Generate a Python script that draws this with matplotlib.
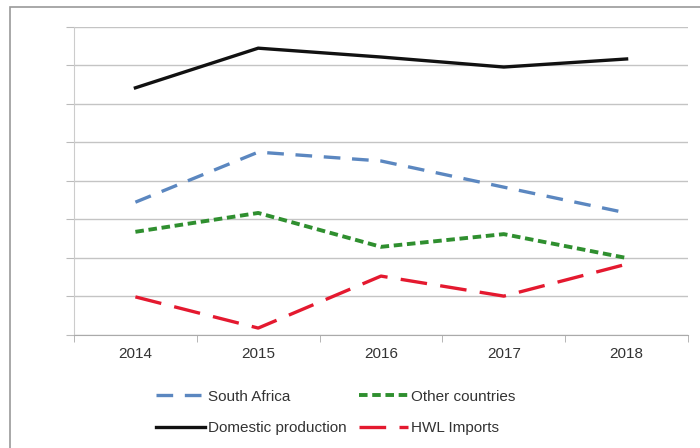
import numpy as np
import matplotlib.pyplot as plt
from matplotlib.patches import Rectangle

years = ['2014', '2015', '2016', '2017', '2018']
south_africa = [3.45, 4.75, 4.52, 3.84, 3.17]
domestic = [6.42, 7.45, 7.22, 6.96, 7.17]
other_countries = [2.68, 3.17, 2.29, 2.62, 2.0]
hwl_imports = [0.99, 0.18, 1.53, 1.01, 1.84]

plt.rcParams['font.family'] = ['Liberation Sans', 'DejaVu Sans']

fig = plt.figure(figsize=(7, 4.48), dpi=100)
ax = fig.add_axes([74 / 700, 1 - 335 / 448, (688 - 74) / 700, (335 - 27) / 448])

# outer chart border (right and bottom edges are cut off in the original)
fig.patches.append(Rectangle((10 / 700, -0.1), 1.2, 1 - 7 / 448 + 0.1,
                             transform=fig.transFigure, fill=False,
                             edgecolor='#9a9a9a', linewidth=1.2))

x = np.arange(len(years))
sa, = ax.plot(x, south_africa, color='#5b87c0', lw=2.4, dashes=(5, 3.5))
dom, = ax.plot(x, domestic, color='#111111', lw=2.4, solid_joinstyle='miter')
oth, = ax.plot(x, other_countries, color='#2f8f2f', lw=2.8, dashes=(2.2, 1.2))
hwl, = ax.plot(x, hwl_imports, color='#e4192f', lw=2.4, dashes=(8, 4))

ax.set_xlim(-0.5, len(years) - 0.5)
ax.set_ylim(0, 8)
ax.set_yticks(np.arange(0, 9, 1))
ax.set_yticklabels([])
ax.grid(axis='y', color='#c4c4c4', lw=1)
ax.set_axisbelow(True)

ax.set_xticks(x)
ax.set_xticklabels(years, fontsize=11, color='#333333')
ax.set_xticks(np.arange(-0.5, len(years)), minor=True)
ax.tick_params(axis='x', which='major', length=0, pad=9)
ax.tick_params(axis='x', which='minor', length=5, color='#aaaaaa', direction='out')
ax.tick_params(axis='y', length=6, color='#bbbbbb')

for s in ['top', 'right']:
    ax.spines[s].set_visible(False)
ax.spines['left'].set_color('#cccccc')
ax.spines['bottom'].set_color('#aaaaaa')

fig.legend([sa, dom, oth, hwl],
           ['South Africa', 'Domestic production', 'Other countries', 'HWL Imports'],
           ncol=2, loc='upper left', bbox_to_anchor=(142 / 700, 1 - 376 / 448),
           frameon=False, fontsize=11, handlelength=3.2, handletextpad=0.2,
           columnspacing=0.85, labelspacing=1.15, labelcolor='#333333')

fig.savefig('out.png', dpi=100)
